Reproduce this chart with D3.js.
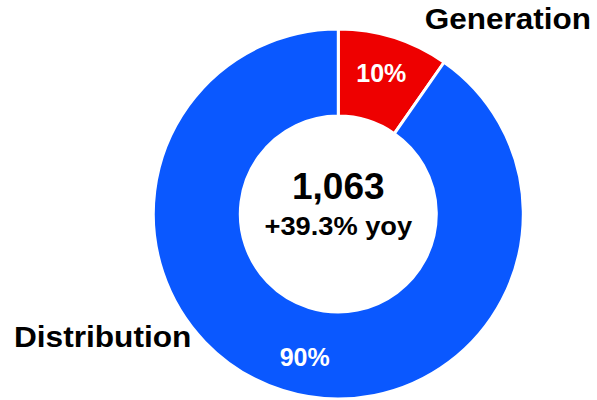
<!DOCTYPE html>
<html>
<head>
<meta charset="utf-8">
<script src="https://cdn.jsdelivr.net/npm/d3@7"></script>
<style>
  html, body { margin: 0; padding: 0; background: #fff; }
  svg { display: block; font-family: Arial, "Liberation Sans", Helvetica, sans-serif; }
</style>
</head>
<body>
<div id="chart"></div>
<script>
// Segment data
const segments = ['Generation', 'Distribution'];
const values = [103, 960];
const segmentColors = ['#EE0000', '#0A58FF'];
const totalLabel = '1,063';
const growthLabel = '+39.3% yoy';

const width = 597, height = 400;
const cx = 338.3, cy = 214;
const outerR = 185, innerR = 98;
const labelR = 147;

const svg = d3.select('#chart').append('svg')
    .attr('width', width)
    .attr('height', height);

const g = svg.append('g')
    .attr('transform', `translate(${cx},${cy})`);

const data = segments.map((s, i) => ({ name: s, value: values[i], color: segmentColors[i] }));
const total = d3.sum(values);

const pie = d3.pie()
    .value(d => d.value)
    .sort(null);

const arc = d3.arc()
    .innerRadius(innerR)
    .outerRadius(outerR);

const arcs = pie(data);

// Slices
g.selectAll('.slice')
    .data(arcs)
    .enter().append('path')
    .attr('class', 'slice')
    .attr('d', arc)
    .style('fill', d => d.data.color)
    .style('stroke', '#fff')
    .style('stroke-width', 3);

// Percent labels (placed a bit before the slice midpoint)
function labelPos(d) {
    const a = d.startAngle + (d.endAngle - d.startAngle) * 0.487;
    return [labelR * Math.sin(a), -labelR * Math.cos(a)];
}

g.selectAll('.pct')
    .data(arcs)
    .enter().append('text')
    .attr('class', 'pct')
    .attr('transform', d => `translate(${labelPos(d)})`)
    .attr('dy', '0.36em')
    .style('text-anchor', 'middle')
    .style('fill', '#fff')
    .style('font-weight', 'bold')
    .style('font-size', '25px')
    .text(d => Math.round(d.data.value / total * 100) + '%');

// Center text
g.append('text')
    .attr('y', -15)
    .style('text-anchor', 'middle')
    .style('font-weight', 'bold')
    .style('font-size', '37px')
    .style('fill', '#000')
    .text(totalLabel);

g.append('text')
    .attr('transform', 'translate(0,21) scale(1.09,1)')
    .style('text-anchor', 'middle')
    .style('font-weight', 'bold')
    .style('font-size', '25px')
    .style('fill', '#000')
    .text(growthLabel);

// Segment names
svg.append('text')
    .attr('transform', 'translate(591,29) scale(1.05,1)')
    .style('text-anchor', 'end')
    .style('font-weight', 'bold')
    .style('font-size', '30px')
    .style('fill', '#000')
    .text(segments[0]);

svg.append('text')
    .attr('transform', 'translate(14,347) scale(1.054,1)')
    .style('text-anchor', 'start')
    .style('font-weight', 'bold')
    .style('font-size', '30px')
    .style('fill', '#000')
    .text(segments[1]);
</script>
</body>
</html>
